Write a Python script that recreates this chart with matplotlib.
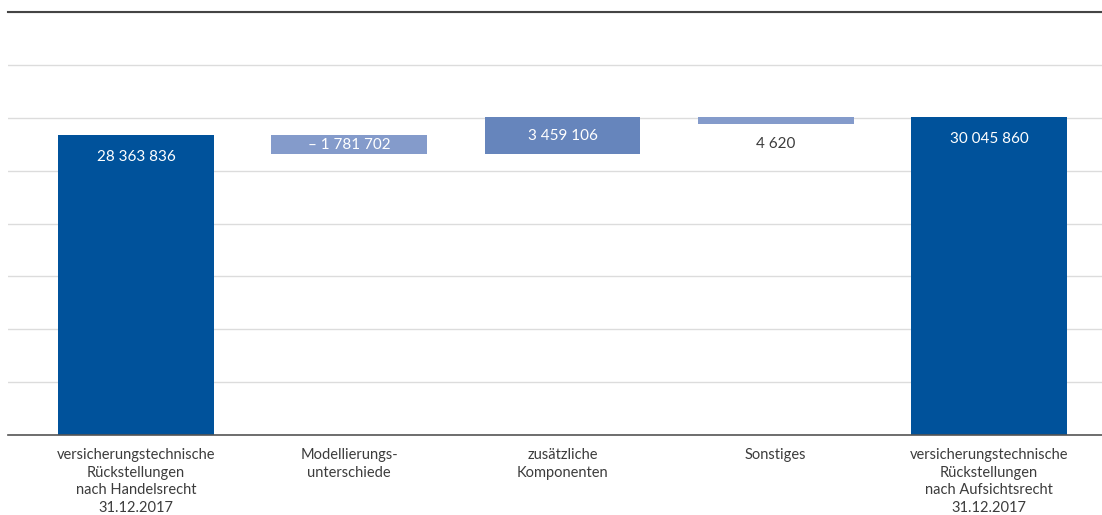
import matplotlib.pyplot as plt
import numpy as np

# Überleitung der versicherungstechnischen Rückstellungen (Wasserfall)
kategorien = [
    "versicherungstechnische\nRückstellungen\nnach Handelsrecht\n31.12.2017",
    "Modellierungs-\nunterschiede",
    "zusätzliche\nKomponenten",
    "Sonstiges",
    "versicherungstechnische\nRückstellungen\nnach Aufsichtsrecht\n31.12.2017",
]
start_wert = 28363836
veraenderungen = [-1781702, 3459106, 4620]
end_wert = 30045860
beschriftungen = ["28 363 836", "– 1 781 702", "3 459 106", "4 620", "30 045 860"]

dunkelblau = "#00529b"
hellblau = "#849bcb"
mittelblau = "#6685bc"
textgrau = "#3c3c3c"

plt.rcParams['font.family'] = ['Lato', 'DejaVu Sans']

fig = plt.figure(figsize=(11.02, 5.15), dpi=100)
ax = fig.add_axes([8 / 1102, 1 - 435 / 515, 1 - 8 / 1102, (435 - 12) / 515])

x = np.arange(len(kategorien))
breite = 0.73
min_hoehe = 650000  # kleine Schritte bleiben sichtbar

# Anfangs- und Endbestand
ax.bar(x[0], start_wert, width=breite, color=dunkelblau, zorder=3)
ax.bar(x[4], end_wert, width=breite, color=dunkelblau, zorder=3)

# Zwischenschritte
stand = start_wert
for i, v in enumerate(veraenderungen, start=1):
    farbe = hellblau if (v < 0 or abs(v) < min_hoehe) else mittelblau
    if abs(v) < min_hoehe:
        oben = stand + v
        ax.bar(x[i], -min_hoehe, bottom=oben, width=breite, color=farbe, zorder=3)
    else:
        ax.bar(x[i], v, bottom=stand, width=breite, color=farbe, zorder=3)
    stand += v

# Wertbeschriftungen
fs = 11
stand = start_wert
ax.text(x[0], start_wert - 2.1e6, beschriftungen[0], ha='center', va='center',
        color='white', fontsize=fs, zorder=4)
for i, v in enumerate(veraenderungen, start=1):
    unten, oben = min(stand, stand + v), max(stand, stand + v)
    if abs(v) < min_hoehe:
        ax.text(x[i], oben - min_hoehe - 1.9e6, beschriftungen[i], ha='center',
                va='center', color=textgrau, fontsize=fs, zorder=4)
    else:
        ax.text(x[i], (unten + oben) / 2 - 0.05e6, beschriftungen[i],
                ha='center', va='center', color='white', fontsize=fs, zorder=4)
    stand += v
ax.text(x[4], end_wert - 2.1e6, beschriftungen[4], ha='center', va='center',
        color='white', fontsize=fs, zorder=4)

ax.set_ylim(0, 40e6)
ax.set_xlim(-0.6, 4.53)
ax.set_yticks(np.arange(0, 40e6 + 1, 5e6))
ax.yaxis.grid(True, color='#dcdcdc', linewidth=1.0, zorder=0)
ax.tick_params(axis='y', left=False, labelleft=False)
ax.tick_params(axis='x', bottom=False, pad=6)
ax.set_xticks(x)
ax.set_xticklabels(kategorien, fontsize=10.5, color=textgrau, linespacing=1.33)

for s in ['left', 'right']:
    ax.spines[s].set_visible(False)
ax.spines['bottom'].set_color('#555555')
ax.spines['bottom'].set_linewidth(1.2)
ax.spines['top'].set_color('#444444')
ax.spines['top'].set_linewidth(1.5)
ax.spines['bottom'].set_zorder(5)

fig.savefig('out.png', dpi=100)
